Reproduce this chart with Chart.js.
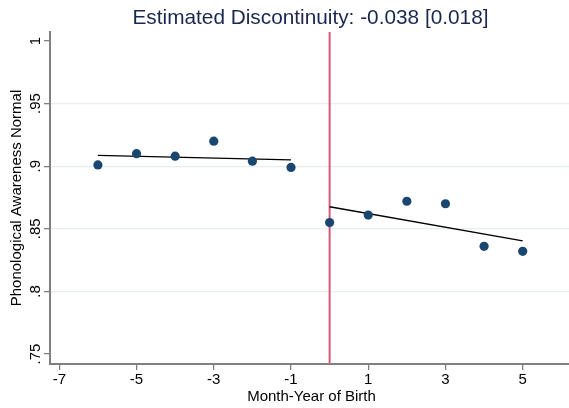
<!DOCTYPE html>
<html><head><meta charset="utf-8">
<script src="https://cdn.jsdelivr.net/npm/chart.js@4.4.0/dist/chart.umd.min.js"></script>
<style>html,body{margin:0;padding:0;background:#fff}canvas{display:block}</style>
</head><body>
<canvas id="c" width="569" height="408"></canvas>
<script>
const titleText = "Estimated Discontinuity: -0.038 [0.018]";
const xTitle = "Month-Year of Birth";
const yTitle = "Phonological Awareness Normal";
const months = [-6, -5, -4, -3, -2, -1, 0, 1, 2, 3, 4, 5];
const values = [0.901, 0.910, 0.908, 0.920, 0.904, 0.899, 0.855, 0.861, 0.872, 0.870, 0.836, 0.832];
const fitLeftX = [-6, -1];
const fitLeftY = [0.9086, 0.9051];
const fitRightX = [0, 5];
const fitRightY = [0.8676, 0.8404];
const cutoff = 0;
const xTicks = [-7, -5, -3, -1, 1, 3, 5];
const yTicks = [0.75, 0.8, 0.85, 0.9, 0.95, 1];
const yTickLabels = [".75", ".8", ".85", ".9", ".95", "1"];
const xMin = -7.241, xMax = 6.199, yMin = 0.742, yMax = 1.0072;

const FONT = '"Liberation Sans", Arial, Helvetica, sans-serif';
const pts = (xs, ys) => xs.map((x, i) => ({x: x, y: ys[i]}));

const labelsPlugin = {
  id: 'labels',
  afterDraw(chart) {
    const ctx = chart.ctx, ca = chart.chartArea;
    const xs = chart.scales.x, ys = chart.scales.y;
    ctx.save();
    ctx.fillStyle = '#1a2850';
    ctx.font = '20.8px ' + FONT;
    ctx.textAlign = 'center';
    ctx.textBaseline = 'alphabetic';
    ctx.fillText(titleText, (ca.left + ca.right) / 2 + 1, 24);
    ctx.fillStyle = '#000';
    ctx.font = '15px ' + FONT;
    xTicks.forEach(v => ctx.fillText(String(v), xs.getPixelForValue(v), 384));
    ctx.fillText(xTitle, (ca.left + ca.right) / 2 + 2, 401);
    yTicks.forEach((v, i) => {
      ctx.save();
      ctx.translate(40, ys.getPixelForValue(v));
      ctx.rotate(-Math.PI / 2);
      ctx.fillText(yTickLabels[i], 0, 0);
      ctx.restore();
    });
    ctx.save();
    ctx.translate(21, (ca.top + ca.bottom) / 2);
    ctx.rotate(-Math.PI / 2);
    ctx.fillText(yTitle, 0, 0);
    ctx.restore();
    ctx.restore();
  }
};

const zeroPad = s => { s.paddingLeft = 0; s.paddingRight = 0; s.paddingTop = 0; s.paddingBottom = 0; };

new Chart(document.getElementById('c'), {
  type: 'scatter',
  data: {
    datasets: [
      { data: pts(months, values), backgroundColor: '#1a476f', borderWidth: 0, pointRadius: 4.6, showLine: false },
      { data: pts(fitLeftX, fitLeftY), type: 'line', borderColor: '#000', borderWidth: 1.3, pointRadius: 0, fill: false },
      { data: pts(fitRightX, fitRightY), type: 'line', borderColor: '#000', borderWidth: 1.3, pointRadius: 0, fill: false },
      { data: [{x: cutoff, y: yMin}, {x: cutoff, y: yMax}], type: 'line', borderColor: '#d6587a', borderWidth: 2, pointRadius: 0, fill: false }
    ]
  },
  options: {
    responsive: false,
    animation: false,
    devicePixelRatio: 1,
    layout: { autoPadding: false, padding: { top: 32, right: 0, left: 0, bottom: 0 } },
    plugins: { legend: { display: false }, tooltip: { enabled: false }, title: { display: false } },
    scales: {
      x: {
        type: 'linear', min: xMin, max: xMax,
        afterBuildTicks: s => { s.ticks = xTicks.map(v => ({value: v})); },
        afterFit: s => { s.height = 44; zeroPad(s); },
        ticks: { display: false },
        grid: { color: 'rgba(0,0,0,0)', tickColor: '#808080', tickLength: 6, lineWidth: 1.3 },
        border: { color: '#808080', width: 2 }
      },
      y: {
        type: 'linear', min: yMin, max: yMax,
        afterBuildTicks: s => { s.ticks = yTicks.map(v => ({value: v})); },
        afterFit: s => { s.width = 50; zeroPad(s); },
        ticks: { display: false },
        grid: {
          color: c => (c.tick && (c.tick.value === 0.75 || c.tick.value === 1)) ? 'rgba(0,0,0,0)' : '#e6eef0',
          tickColor: '#808080', tickLength: 6, lineWidth: 1.3
        },
        border: { color: '#808080', width: 2 }
      }
    }
  },
  plugins: [labelsPlugin]
});
</script>
</body></html>
